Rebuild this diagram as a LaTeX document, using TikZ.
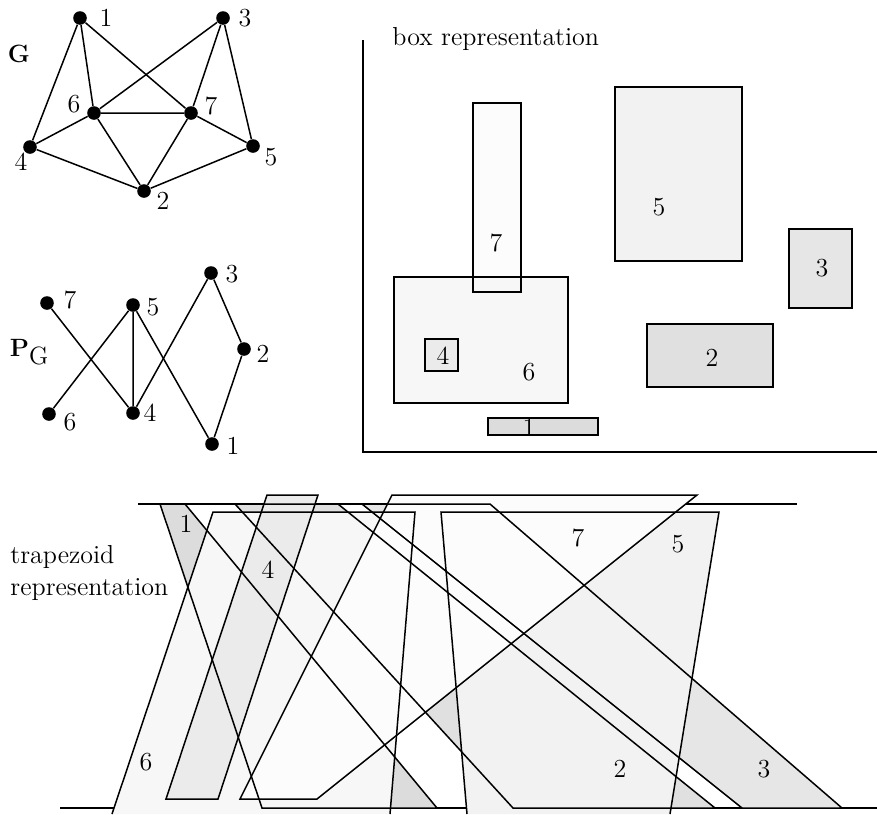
\documentclass[tikz,border=0pt]{standalone}
\usepackage{tikz}

\definecolor{shadeone}{HTML}{DCDCDC}
\definecolor{shadetwo}{HTML}{E0E0E0}
\definecolor{shadethree}{HTML}{E6E6E6}
\definecolor{shadefour}{HTML}{EBEBEB}
\definecolor{shadefive}{HTML}{F2F2F2}
\definecolor{shadesix}{HTML}{F7F7F7}
\definecolor{shadeseven}{HTML}{FCFCFC}

\begin{document}
\begin{tikzpicture}[
  x=0.5pt, y=-0.5pt,
  font=\fontsize{13}{16}\selectfont,
  dot/.style={circle, fill=black, inner sep=0pt, minimum size=6.8pt},
  edge/.style={line width=0.75pt},
  lbl/.style={inner sep=0pt},
  ttl/.style={inner sep=0pt, font=\fontsize{12.5}{15}\selectfont},
  outline/.style={line width=0.75pt, line join=miter}
]
\useasboundingbox (0,0) rectangle (877,814);

% the graph G
\node[ttl] (gname) at (19,54) {\bfseries G};
\node[dot] (g1) at (80,18) {};
\node[dot] (g3) at (223,18) {};
\node[dot] (g6) at (94,113) {};
\node[dot] (g7) at (191,113) {};
\node[dot] (g4) at (30,147) {};
\node[dot] (g5) at (253,146) {};
\node[dot] (g2) at (144,191) {};
\node[lbl] (g1l) at (106,18) {1};
\node[lbl] (g3l) at (245,18) {3};
\node[lbl] (g6l) at (74,104) {6};
\node[lbl] (g7l) at (211,106) {7};
\node[lbl] (g4l) at (21,162) {4};
\node[lbl] (g5l) at (271,157) {5};
\node[lbl] (g2l) at (163,201) {2};
\draw[edge] (g1) -- (g4) (g1) -- (g6) (g1) -- (g7);
\draw[edge] (g3) -- (g6) (g3) -- (g7) (g3) -- (g5);
\draw[edge] (g6) -- (g7) (g6) -- (g4) (g6) -- (g2);
\draw[edge] (g7) -- (g2) (g7) -- (g5);
\draw[edge] (g4) -- (g2) (g2) -- (g5);

% its order P_G
\node[ttl] (pname) at (29,352) {\bfseries P\raisebox{-4pt}{\mdseries G}};
\node[dot] (p7) at (47,303) {};
\node[dot] (p5) at (133,305) {};
\node[dot] (p3) at (211,273) {};
\node[dot] (p2) at (244,349) {};
\node[dot] (p6) at (49,414) {};
\node[dot] (p4) at (133,413) {};
\node[dot] (p1) at (212,444) {};
\node[lbl] (p7l) at (70,300) {7};
\node[lbl] (p5l) at (153,307) {5};
\node[lbl] (p3l) at (232,274) {3};
\node[lbl] (p2l) at (263,354) {2};
\node[lbl] (p6l) at (70,422) {6};
\node[lbl] (p4l) at (150,413) {4};
\node[lbl] (p1l) at (233,446) {1};
\draw[edge] (p7) -- (p4) (p6) -- (p5) (p5) -- (p4) (p5) -- (p1);
\draw[edge] (p4) -- (p3) (p3) -- (p2) (p2) -- (p1);

% box representation
\draw[edge] (363,40) -- (363,452) -- (877,452);
\node[lbl, anchor=base west] (boxttl) at (392,45) {box representation};
\fill[shadeone] (488,418) rectangle (598,435);
\fill[shadetwo] (647,324) rectangle (773,387);
\fill[shadethree] (789,229) rectangle (852,308);
\fill[shadefive] (615,87) rectangle (742,261);
\fill[shadeseven] (473,103) rectangle (521,292);
\fill[shadesix] (394,277) rectangle (568,403);
\fill[shadefour] (425,339) rectangle (458,371);
\draw[outline] (488,418) rectangle (598,435);
\draw[outline] (647,324) rectangle (773,387);
\draw[outline] (789,229) rectangle (852,308);
\draw[outline] (615,87) rectangle (742,261);
\draw[outline] (473,103) rectangle (521,292);
\draw[outline] (394,277) rectangle (568,403);
\draw[outline] (425,339) rectangle (458,371);
\node[lbl] (bx1) at (529,428) {1};
\node[lbl] (bx2) at (712,358) {2};
\node[lbl] (bx3) at (822,268) {3};
\node[lbl] (bx4) at (443,356) {4};
\node[lbl] (bx5) at (659,207) {5};
\node[lbl] (bx6) at (529,372) {6};
\node[lbl] (bx7) at (496,243) {7};

% trapezoid representation
\node[lbl, anchor=north west, align=left] (trapttl) at (10,545) {trapezoid\\representation};
\draw[edge] (138,504) -- (797,504);
\draw[edge] (60,808) -- (877,808);
\fill[shadeone] (160,504) -- (185,504) -- (437,808) -- (262,808) -- cycle;
\fill[shadetwo] (235,504) -- (338,504) -- (715,808) -- (513,808) -- cycle;
\fill[shadethree] (362,504) -- (490,504) -- (842,808) -- (742,808) -- cycle;
\fill[shadefive] (441,512) -- (719,512) -- (670,814) -- (467,814) -- cycle;
\fill[shadesix] (213,512) -- (415,512) -- (390,814) -- (112,814) -- cycle;
\fill[shadefour] (267,495) -- (318,495) -- (218,799) -- (166,799) -- cycle;
\fill[shadeseven] (392,495) -- (697,495) -- (317,799) -- (240,799) -- cycle;
\draw[outline] (160,504) -- (185,504) -- (437,808) -- (262,808) -- cycle;
\draw[outline] (235,504) -- (338,504) -- (715,808) -- (513,808) -- cycle;
\draw[outline] (362,504) -- (490,504) -- (842,808) -- (742,808) -- cycle;
\draw[outline] (467,814) -- (441,512) -- (719,512) -- (670,814);
\draw[outline] (112,814) -- (213,512) -- (415,512) -- (390,814);
\draw[outline] (267,495) -- (318,495) -- (218,799) -- (166,799) -- cycle;
\draw[outline] (392,495) -- (697,495) -- (317,799) -- (240,799) -- cycle;
\node[lbl] (tz1) at (186,524) {1};
\node[lbl] (tz2) at (620,769) {2};
\node[lbl] (tz3) at (764,769) {3};
\node[lbl] (tz4) at (268,570) {4};
\node[lbl] (tz5) at (678,544) {5};
\node[lbl] (tz6) at (146,762) {6};
\node[lbl] (tz7) at (578,538) {7};

\end{tikzpicture}
\end{document}
